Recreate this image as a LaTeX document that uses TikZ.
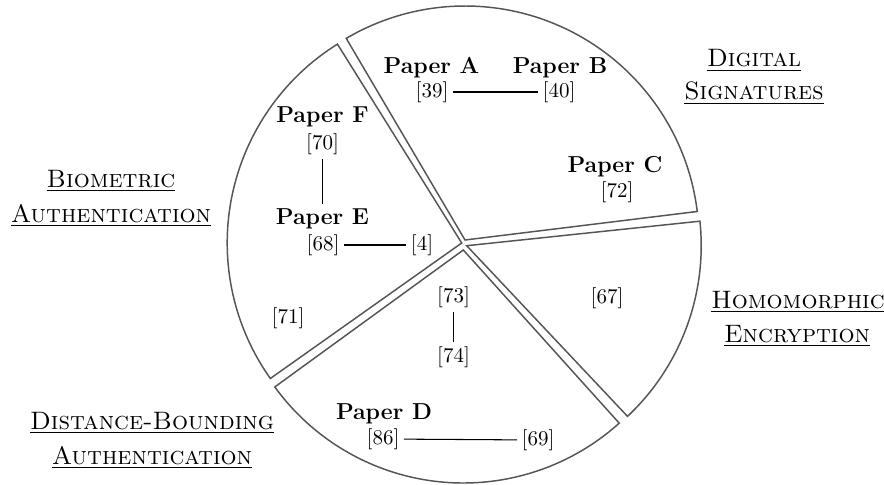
\documentclass[tikz,border=0pt]{standalone}
\definecolor{sectorgray}{RGB}{85,85,85}
\begin{document}
\begin{tikzpicture}[x=0.47619pt,y=0.47619pt,
  sector/.style={draw=sectorgray, line width=0.7pt, line join=miter},
  conn/.style={draw=black, line width=0.5pt},
  ref/.style={inner sep=2pt},
  title/.style={font=\fontsize{11}{13}\selectfont\bfseries, inner sep=2pt},
  cat/.style={anchor=base, inner sep=0pt, font=\large}]
\useasboundingbox (0,0) rectangle (884,484);
% sectors
\draw[sector] (465,244) -- ++(7:234) arc[start angle=7,end angle=120.5,radius=234] -- cycle;
\draw[sector] (461.7,241) -- ++(122:234.5) arc[start angle=122,end angle=215.3,radius=234.5] -- cycle;
\draw[sector] (463.3,234) -- ++(216:233) arc[start angle=216,end angle=312,radius=233] -- cycle;
\draw[sector] (466.7,238.3) -- ++(-46.7:234.5) arc[start angle=-46.7,end angle=6,radius=234.5] -- cycle;
% digital signatures
\node[title] (pA) at (431.5,416) {Paper A};
\node[ref] (r39) at (432,392) {[39]};
\node[title] (pB) at (560,416) {Paper B};
\node[ref] (r40) at (559,392) {[40]};
\node[title] (pC) at (615,317) {Paper C};
\node[ref] (r72) at (617,292) {[72]};
\draw[conn] (r39) -- (r40);
% biometric
\node[title] (pF) at (322.5,367) {Paper F};
\node[ref] (r70) at (322.5,340) {[70]};
\node[title] (pE) at (322.5,265) {Paper E};
\node[ref] (r68) at (323,239) {[68]};
\node[ref] (r4) at (422,239) {[4]};
\node[ref] (r71) at (288,166) {[71]};
\draw[conn] (r70) -- (pE);
\draw[conn] (r68) -- (r4);
% distance bounding
\node[ref] (r73) at (453.5,187) {[73]};
\node[ref] (r74) at (453.5,127) {[74]};
\draw[conn] (r73) -- (r74);
\node[title] (pD) at (384,70) {Paper D};
\node[ref] (r86) at (383,45) {[86]};
\node[ref] (r69) at (538,44) {[69]};
\draw[conn] (r86) -- (r69);
% homomorphic
\node[ref] (r67) at (607,186) {[67]};
% category labels
\node[cat] (ds1) at (754,417) {\underline{\textsc{Digital}}};
\node[cat] (ds2) at (754,384) {\underline{\textsc{Signatures}}};
\node[cat] (he1) at (798,176) {\underline{\textsc{Homomorphic}}};
\node[cat] (he2) at (797,142) {\underline{\textsc{Encryption}}};
\node[cat] (ba1) at (111,297) {\underline{\textsc{Biometric}}};
\node[cat] (ba2) at (111,262) {\underline{\textsc{Authentication}}};
\node[cat] (db1) at (152,55) {\underline{\textsc{Distance-Bounding}}};
\node[cat] (db2) at (152,20) {\underline{\textsc{Authentication}}};
\end{tikzpicture}
\end{document}
